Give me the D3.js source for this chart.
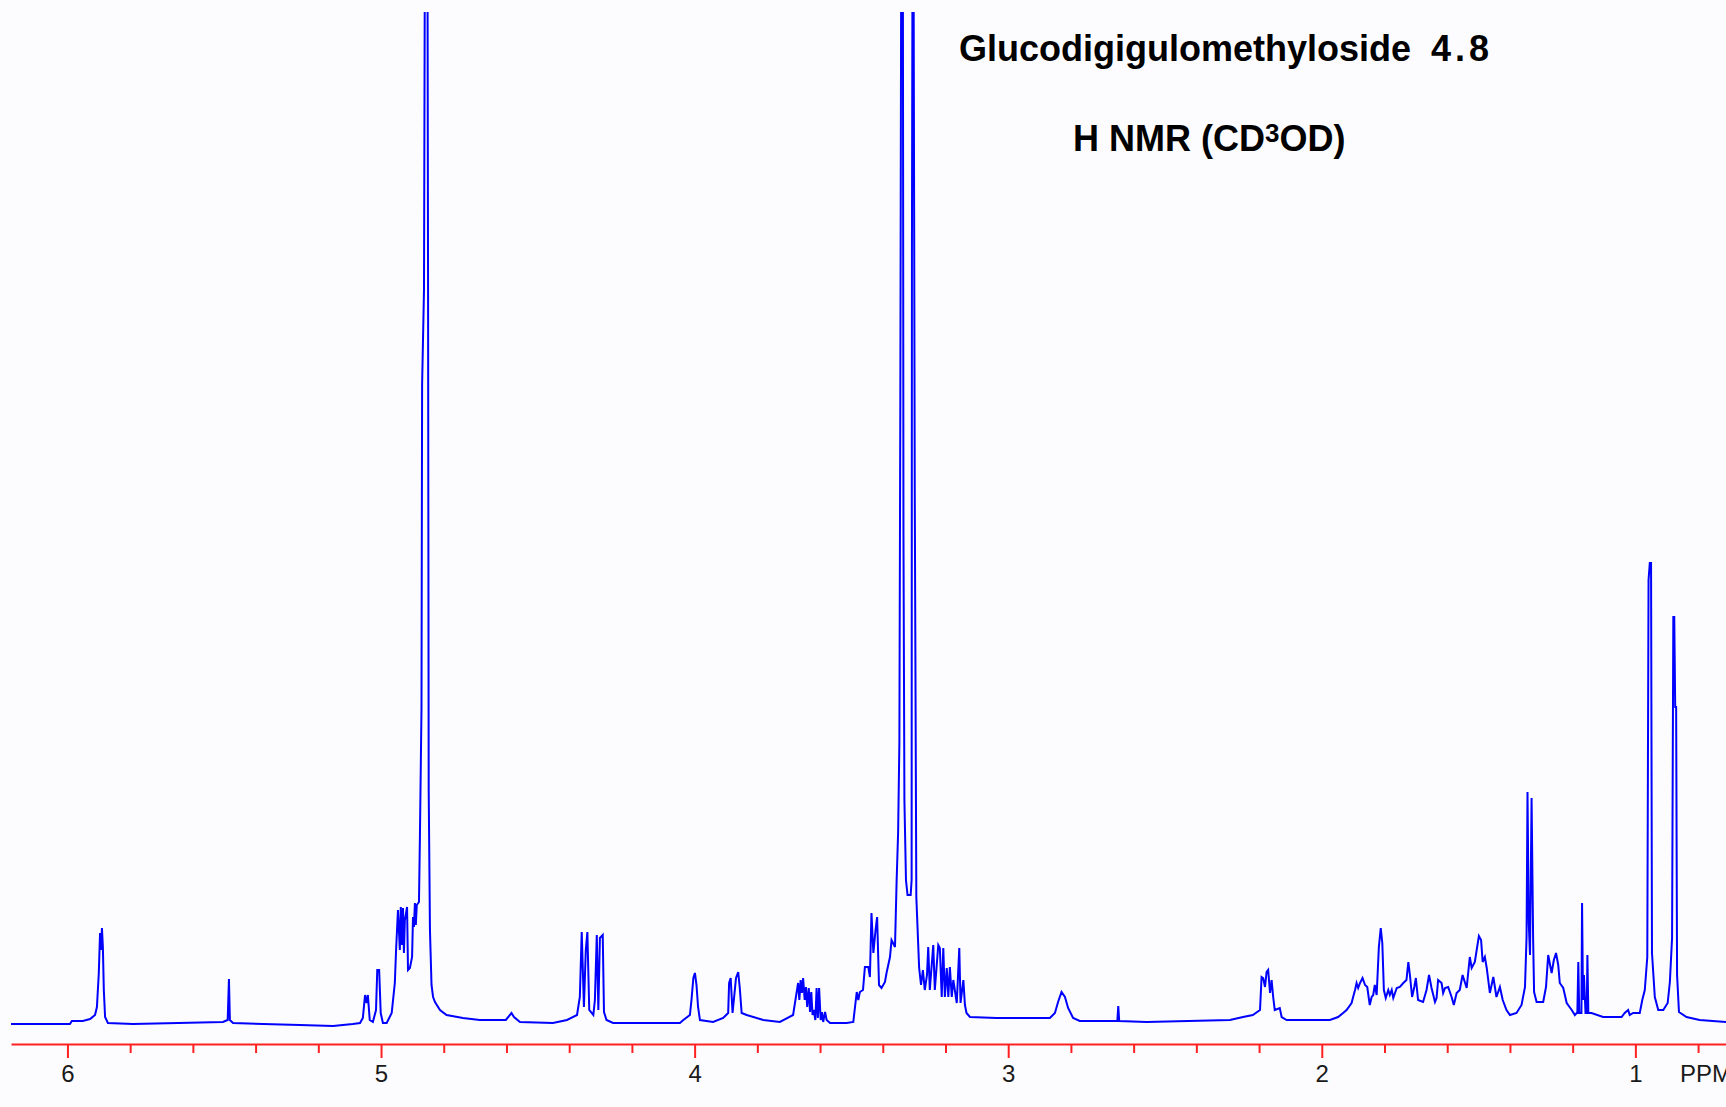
<!DOCTYPE html>
<meta charset="utf-8">
<style>
body { margin: 0; background: #fcfcfe; overflow: hidden; }
svg { display: block; }
.title {
  font-family: "Liberation Sans", Arial, sans-serif;
  font-weight: bold;
  font-size: 36px;
  fill: #000;
}
.axis text {
  font-family: "Liberation Sans", Arial, sans-serif;
  font-size: 24px;
  fill: #1a1a1a;
}
.axis path, .axis line {
  stroke: #ff2020;
  stroke-width: 2;
}
.spectrum {
  fill: none;
  stroke: #0000ff;
  stroke-width: 2;
}
</style>
<body>
<script src="https://cdn.jsdelivr.net/npm/d3@7/dist/d3.min.js"></script>
<script>

// chemical shift (ppm), intensity (arbitrary units, 0 = baseline)
var trace1 = [
  [6.180, 0], [5.992, 0], [5.986, 3], [5.951, 3], [5.928, 5], [5.912, 9], [5.906, 17],
  [5.900, 51], [5.896, 91], [5.893, 74], [5.890, 96], [5.887, 77], [5.884, 34], [5.880, 7],
  [5.871, 1], [5.791, 0], [5.504, 2], [5.489, 4], [5.485, 45], [5.482, 4], [5.472, 1],
  [5.259, -1], [5.153, -2], [5.090, 0], [5.067, 1], [5.058, 6], [5.051, 29], [5.046, 21],
  [5.042, 29], [5.036, 4], [5.026, 2], [5.016, 14], [5.012, 54], [5.006, 54], [5.001, 11],
  [4.994, 1], [4.982, 1], [4.966, 11], [4.956, 41], [4.952, 74], [4.946, 114], [4.940, 74],
  [4.937, 117], [4.933, 79], [4.930, 116], [4.927, 71], [4.924, 104], [4.917, 117],
  [4.914, 54], [4.908, 56], [4.901, 67], [4.898, 107], [4.895, 97], [4.892, 121], [4.889, 99],
  [4.886, 119], [4.879, 122], [4.876, 187], [4.871, 314], [4.869, 639], [4.863, 734],
  [4.860, 1100], [4.852, 1100], [4.850, 734], [4.848, 234], [4.844, 94], [4.839, 39],
  [4.834, 27], [4.828, 22], [4.812, 14], [4.791, 9], [4.739, 6], [4.685, 4], [4.602, 4],
  [4.584, 11], [4.576, 7], [4.557, 2], [4.452, 1], [4.407, 4], [4.375, 9], [4.366, 27],
  [4.360, 92], [4.353, 17], [4.347, 74], [4.342, 92], [4.336, 14], [4.323, 9], [4.318, 24],
  [4.312, 89], [4.307, 14], [4.302, 86], [4.293, 89], [4.289, 12], [4.281, 4], [4.260, 1]
];

var trace2 = [
  [4.047, 1], [4.036, 4], [4.015, 9], [4.010, 24], [4.004, 46], [3.999, 51], [3.994, 39],
  [3.989, 17], [3.983, 4], [3.941, 2], [3.909, 6], [3.893, 11], [3.890, 41], [3.885, 46],
  [3.879, 11], [3.868, 46], [3.861, 52], [3.856, 36], [3.850, 11], [3.834, 9], [3.781, 4],
  [3.728, 2], [3.686, 9], [3.670, 41], [3.666, 24], [3.662, 44], [3.658, 31], [3.654, 46],
  [3.649, 24], [3.645, 37], [3.641, 17], [3.636, 36], [3.632, 12], [3.628, 32], [3.624, 9],
  [3.620, 14], [3.615, 4], [3.611, 36], [3.607, 6], [3.603, 36], [3.598, 4], [3.594, 12],
  [3.590, 2], [3.584, 12], [3.579, 4], [3.568, 1], [3.515, 1], [3.494, 2], [3.483, 32],
  [3.478, 24], [3.473, 32], [3.463, 34], [3.457, 57], [3.446, 57], [3.441, 47], [3.436, 111],
  [3.430, 71], [3.423, 94], [3.418, 107], [3.412, 39], [3.404, 36], [3.393, 42], [3.388, 51],
  [3.377, 67], [3.372, 84], [3.361, 77], [3.356, 141], [3.351, 192], [3.347, 282],
  [3.344, 624], [3.341, 1100], [3.336, 1100], [3.334, 490], [3.331, 224], [3.326, 144],
  [3.321, 129], [3.311, 129], [3.308, 144], [3.307, 769], [3.305, 1100], [3.302, 1100],
  [3.300, 817], [3.298, 534], [3.293, 127], [3.284, 56], [3.278, 39], [3.272, 54],
  [3.266, 34], [3.259, 49], [3.255, 77], [3.250, 34], [3.239, 79], [3.234, 34], [3.223, 79],
  [3.218, 76], [3.212, 27], [3.207, 76], [3.202, 27], [3.196, 56], [3.191, 27], [3.186, 57],
  [3.180, 27], [3.175, 44], [3.164, 21], [3.156, 76], [3.152, 21], [3.143, 44], [3.138, 19],
  [3.133, 11], [3.122, 7]
];

var trace3 = [
  [3.037, 6], [2.867, 6], [2.851, 11], [2.841, 22], [2.830, 32], [2.819, 27], [2.809, 16],
  [2.793, 6], [2.772, 3], [2.652, 3], [2.649, 18], [2.646, 3], [2.559, 2], [2.293, 4],
  [2.251, 7], [2.220, 9], [2.197, 14], [2.192, 47], [2.187, 46], [2.181, 37], [2.176, 52],
  [2.171, 54], [2.165, 31], [2.160, 44], [2.155, 27], [2.150, 14], [2.134, 16], [2.128, 7],
  [2.112, 4], [1.974, 4], [1.948, 7], [1.932, 11], [1.921, 14], [1.905, 21], [1.900, 27],
  [1.894, 34], [1.889, 41], [1.884, 36], [1.878, 41], [1.870, 46], [1.862, 39], [1.855, 37],
  [1.847, 19], [1.841, 27], [1.836, 29], [1.831, 39], [1.825, 29], [1.818, 77], [1.812, 96],
  [1.807, 81], [1.802, 34], [1.796, 26], [1.788, 34], [1.783, 29], [1.777, 34], [1.772, 26],
  [1.761, 36], [1.751, 37], [1.740, 41], [1.730, 44], [1.724, 62], [1.719, 49], [1.712, 27],
  [1.705, 37], [1.700, 46], [1.693, 24], [1.677, 22], [1.666, 34], [1.658, 49], [1.650, 36],
  [1.639, 22], [1.634, 26], [1.629, 44], [1.618, 41], [1.613, 31], [1.607, 36], [1.597, 37],
  [1.586, 27], [1.579, 19], [1.570, 31], [1.560, 34], [1.551, 49], [1.544, 42], [1.538, 36]
];

var trace4 = [
  [1.528, 67], [1.522, 56], [1.512, 62], [1.506, 74], [1.499, 88], [1.492, 84], [1.487, 62],
  [1.480, 67], [1.474, 56], [1.464, 31], [1.453, 47], [1.443, 27], [1.432, 37], [1.423, 24],
  [1.411, 14], [1.400, 9], [1.379, 11], [1.363, 19], [1.352, 37], [1.347, 87], [1.344, 232],
  [1.340, 101], [1.336, 69], [1.331, 226], [1.326, 84], [1.323, 32], [1.315, 22], [1.294, 22],
  [1.285, 37], [1.278, 69], [1.272, 59], [1.267, 51], [1.260, 64], [1.253, 71], [1.246, 59],
  [1.241, 41], [1.230, 36], [1.219, 21], [1.203, 14], [1.193, 9], [1.187, 11], [1.185, 11],
  [1.182, 62], [1.179, 11], [1.172, 11], [1.170, 121], [1.167, 24], [1.164, 49], [1.159, 11],
  [1.155, 11], [1.153, 69], [1.150, 11], [1.140, 11], [1.103, 7], [1.044, 7], [1.034, 11],
  [1.023, 14], [1.018, 9], [1.007, 11], [0.986, 11], [0.978, 24], [0.970, 34], [0.962, 67],
  [0.958, 444], [0.954, 461], [0.950, 461], [0.947, 71], [0.938, 27], [0.927, 14],
  [0.911, 14], [0.897, 21], [0.890, 42], [0.883, 86], [0.879, 407], [0.876, 407],
  [0.873, 317], [0.870, 317], [0.867, 49], [0.861, 12], [0.837, 7], [0.795, 4], [0.711, 2]
];

var majorTicks = [6, 5, 4, 3, 2, 1];
var minorTicks = [5.8, 5.6, 5.4, 5.2, 4.8, 4.6, 4.4, 4.2, 3.8, 3.6, 3.4, 3.2,
                  2.8, 2.6, 2.4, 2.2, 1.8, 1.6, 1.4, 1.2, 0.8];
var unitLabel = "PPM";
var titleName = ["Glucodigigulomethyloside", "4.8"];
var titleSolvent = ["H NMR (CD", "3", "OD)"];

var width = 1726,
    height = 1107;

var plotLeft = 11,
    plotTop = 12,
    baseY = 1024,
    axisY = 1044;

var spectrum = trace1.concat(trace2, trace3, trace4);

var svg = d3.select("body").append("svg")
    .attr("width", width)
    .attr("height", height);

svg.append("rect")
    .attr("width", width)
    .attr("height", height)
    .attr("fill", "#fcfcfe");

// ppm runs right to left
var x = d3.scaleLinear()
    .domain([6.18, 0.711])
    .range([plotLeft, width]);

var y = d3.scaleLinear()
    .domain([0, baseY - plotTop])
    .range([baseY, plotTop]);

svg.append("clipPath")
    .attr("id", "plotclip")
  .append("rect")
    .attr("x", plotLeft)
    .attr("y", plotTop)
    .attr("width", width - plotLeft)
    .attr("height", axisY - plotTop);

var line = d3.line()
    .x(function(d) { return x(d[0]); })
    .y(function(d) { return y(d[1]); });

svg.append("path")
    .datum(spectrum)
    .attr("class", "spectrum")
    .attr("clip-path", "url(#plotclip)")
    .attr("d", line);

// minor ticks first, then major ticks with labels
svg.append("g")
    .attr("class", "axis")
    .attr("transform", "translate(0," + axisY + ")")
    .call(d3.axisBottom(x)
      .tickValues(minorTicks)
      .tickSize(9)
      .tickSizeOuter(0)
      .tickFormat(""));

var major = svg.append("g")
    .attr("class", "axis")
    .attr("transform", "translate(0," + axisY + ")")
    .call(d3.axisBottom(x)
      .tickValues(majorTicks)
      .tickSize(14)
      .tickSizeOuter(0)
      .tickPadding(7)
      .tickFormat(d3.format("d")));
major.select(".domain").remove();

svg.append("text")
    .attr("class", "axis-unit")
    .attr("x", width - 46)
    .attr("y", axisY + 38)
    .style("font-family", "\"Liberation Sans\", Arial, sans-serif")
    .style("font-size", "24px")
    .style("fill", "#1a1a1a")
    .text(unitLabel);

var head = svg.append("text")
    .attr("class", "title")
    .attr("x", 959)
    .attr("y", 61);
head.append("tspan").text(titleName[0]);
head.append("tspan").attr("x", 1431).style("letter-spacing", "4px").text(titleName[1]);

var sub = svg.append("text")
    .attr("class", "title")
    .attr("x", 1073)
    .attr("y", 151);
sub.append("tspan").text(titleSolvent[0]);
sub.append("tspan").attr("dy", -9).style("font-size", "26px").text(titleSolvent[1]);
sub.append("tspan").attr("dy", 9).text(titleSolvent[2]);

</script>
